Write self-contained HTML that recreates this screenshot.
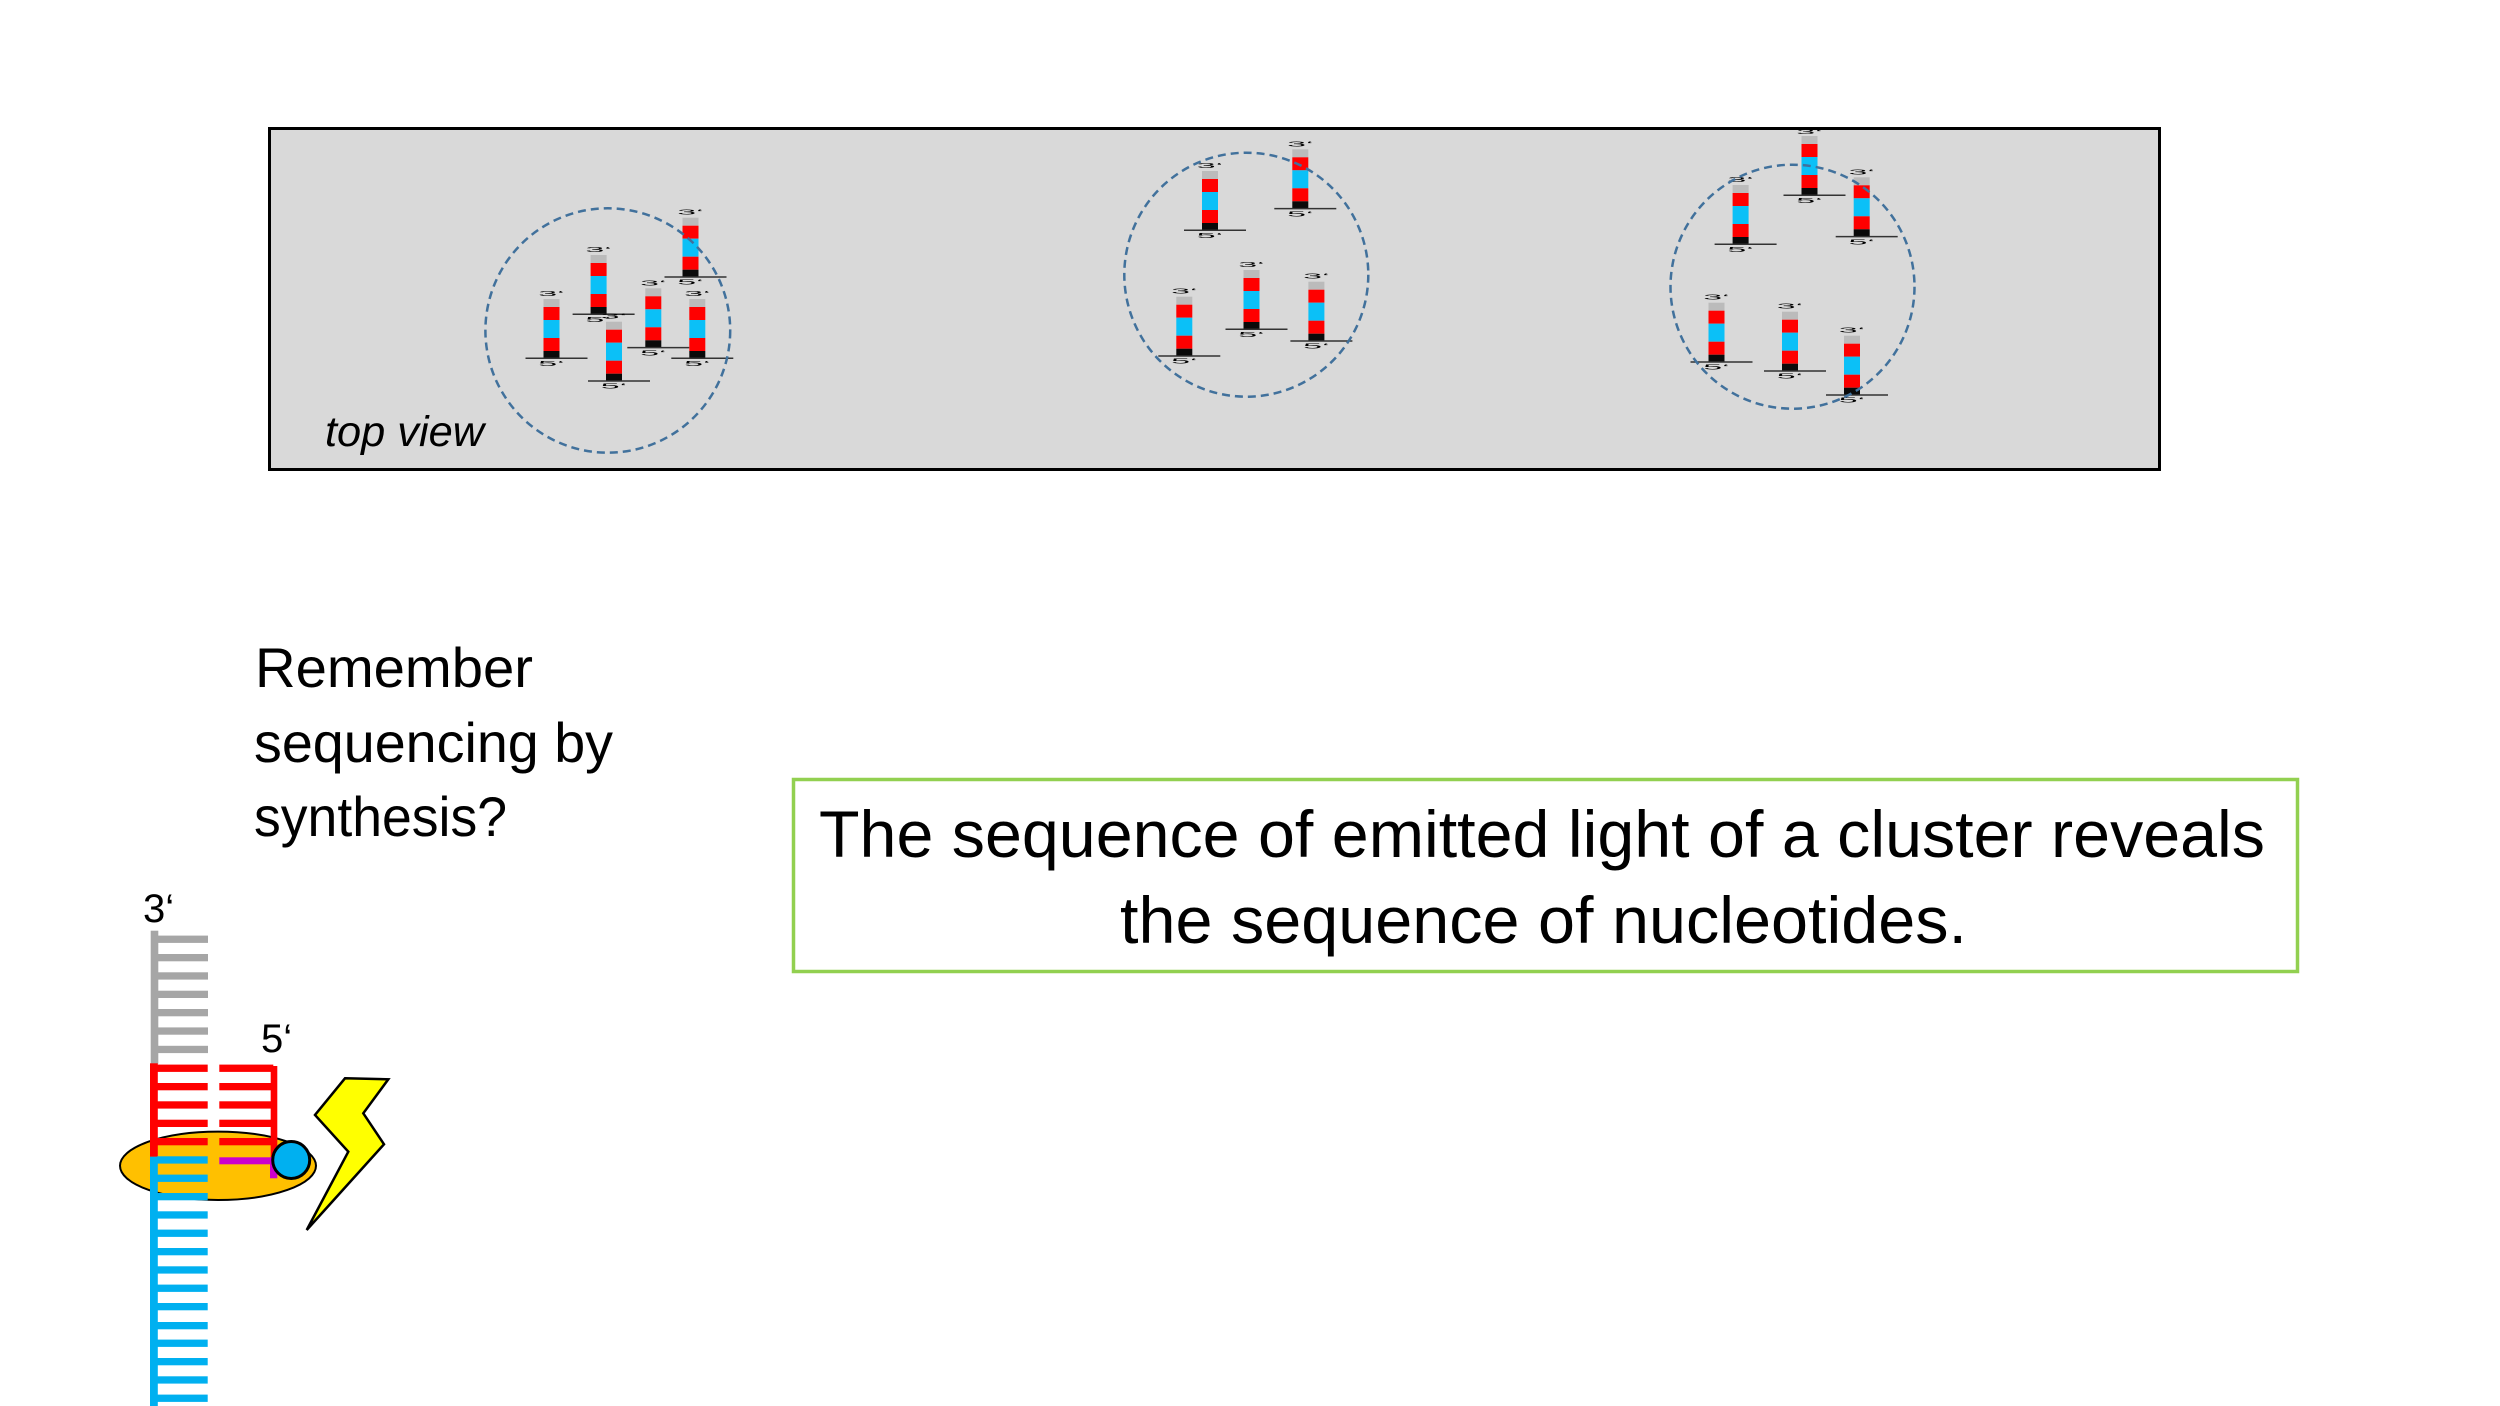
<!DOCTYPE html>
<html>
<head>
<meta charset="utf-8">
<style>
html,body{margin:0;padding:0;background:#fff;}
svg{display:block;}
text{font-family:"Liberation Sans",sans-serif;}
</style>
</head>
<body>
<svg width="2500" height="1406" viewBox="0 0 2500 1406" xmlns="http://www.w3.org/2000/svg">
<defs>
<g id="s">
<rect x="0" y="0" width="16" height="8" fill="#BBBBBB"/>
<rect x="0" y="8" width="16" height="13" fill="#FF0000"/>
<rect x="0" y="21" width="16" height="18" fill="#0BC0F7"/>
<rect x="0" y="39" width="16" height="13" fill="#FF0000"/>
<rect x="0" y="52" width="16" height="7.3" fill="#0A0A0A"/>
<line x1="-18" y1="59.3" x2="44" y2="59.3" stroke="#333" stroke-width="1.5"/>
</g>
</defs>

<!-- top view box -->
<rect x="269.5" y="128.5" width="1890" height="341" fill="#D9D9D9" stroke="#000" stroke-width="3"/>
<text x="325" y="446" font-size="43" font-style="italic" textLength="159" lengthAdjust="spacingAndGlyphs" fill="#000">top view</text>

<!-- strands cluster 1 -->
<g>
<use href="#s" x="543.5" y="299"/>
<text transform="translate(551.5,296) scale(3.4,0.7)" font-size="10" text-anchor="middle">3‘</text>
<text transform="translate(551.5,366) scale(3.4,0.7)" font-size="10" text-anchor="middle">5‘</text>
<use href="#s" x="590.6" y="255"/>
<text transform="translate(598.6,252) scale(3.4,0.7)" font-size="10" text-anchor="middle">3‘</text>
<text transform="translate(598.6,322) scale(3.4,0.7)" font-size="10" text-anchor="middle">5‘</text>
<use href="#s" x="682.5" y="217.7"/>
<text transform="translate(690.5,214.7) scale(3.4,0.7)" font-size="10" text-anchor="middle">3‘</text>
<text transform="translate(690.5,284.7) scale(3.4,0.7)" font-size="10" text-anchor="middle">5‘</text>
<use href="#s" x="645.3" y="288.3"/>
<text transform="translate(653.3,285.3) scale(3.4,0.7)" font-size="10" text-anchor="middle">3‘</text>
<text transform="translate(653.3,355.3) scale(3.4,0.7)" font-size="10" text-anchor="middle">5‘</text>
<use href="#s" x="689.3" y="299"/>
<text transform="translate(697.3,296) scale(3.4,0.7)" font-size="10" text-anchor="middle">3‘</text>
<text transform="translate(697.3,366) scale(3.4,0.7)" font-size="10" text-anchor="middle">5‘</text>
<use href="#s" x="606" y="321.7"/>
<text transform="translate(614,318.7) scale(3.4,0.7)" font-size="10" text-anchor="middle">3‘</text>
<text transform="translate(614,388.7) scale(3.4,0.7)" font-size="10" text-anchor="middle">5‘</text>
</g>

<!-- strands cluster 2 -->
<g>
<use href="#s" x="1202" y="171"/>
<text transform="translate(1210,168) scale(3.4,0.7)" font-size="10" text-anchor="middle">3‘</text>
<text transform="translate(1210,238) scale(3.4,0.7)" font-size="10" text-anchor="middle">5‘</text>
<use href="#s" x="1292.3" y="149.3"/>
<text transform="translate(1300.3,146.3) scale(3.4,0.7)" font-size="10" text-anchor="middle">3‘</text>
<text transform="translate(1300.3,216.3) scale(3.4,0.7)" font-size="10" text-anchor="middle">5‘</text>
<use href="#s" x="1176.3" y="296.7"/>
<text transform="translate(1184.3,293.7) scale(3.4,0.7)" font-size="10" text-anchor="middle">3‘</text>
<text transform="translate(1184.3,363.7) scale(3.4,0.7)" font-size="10" text-anchor="middle">5‘</text>
<use href="#s" x="1243.5" y="270"/>
<text transform="translate(1251.5,267) scale(3.4,0.7)" font-size="10" text-anchor="middle">3‘</text>
<text transform="translate(1251.5,337) scale(3.4,0.7)" font-size="10" text-anchor="middle">5‘</text>
<use href="#s" x="1308.4" y="281.7"/>
<text transform="translate(1316.4,278.7) scale(3.4,0.7)" font-size="10" text-anchor="middle">3‘</text>
<text transform="translate(1316.4,348.7) scale(3.4,0.7)" font-size="10" text-anchor="middle">5‘</text>
</g>

<!-- strands cluster 3 -->
<g>
<use href="#s" x="1801.5" y="136"/>
<text transform="translate(1809.5,134) scale(3.4,0.6)" font-size="10" text-anchor="middle">3‘</text>
<text transform="translate(1809.5,203) scale(3.4,0.7)" font-size="10" text-anchor="middle">5‘</text>
<use href="#s" x="1732.6" y="185"/>
<text transform="translate(1740.6,182) scale(3.4,0.7)" font-size="10" text-anchor="middle">3‘</text>
<text transform="translate(1740.6,252) scale(3.4,0.7)" font-size="10" text-anchor="middle">5‘</text>
<use href="#s" x="1853.7" y="177.3"/>
<text transform="translate(1861.7,174.3) scale(3.4,0.7)" font-size="10" text-anchor="middle">3‘</text>
<text transform="translate(1861.7,244.3) scale(3.4,0.7)" font-size="10" text-anchor="middle">5‘</text>
<use href="#s" x="1708.5" y="302.7"/>
<text transform="translate(1716.5,299.7) scale(3.4,0.7)" font-size="10" text-anchor="middle">3‘</text>
<text transform="translate(1716.5,369.7) scale(3.4,0.7)" font-size="10" text-anchor="middle">5‘</text>
<use href="#s" x="1782" y="311.7"/>
<text transform="translate(1790,308.7) scale(3.4,0.7)" font-size="10" text-anchor="middle">3‘</text>
<text transform="translate(1790,378.7) scale(3.4,0.7)" font-size="10" text-anchor="middle">5‘</text>
<use href="#s" x="1844" y="335.7"/>
<text transform="translate(1852,332.7) scale(3.4,0.7)" font-size="10" text-anchor="middle">3‘</text>
<text transform="translate(1852,402.7) scale(3.4,0.7)" font-size="10" text-anchor="middle">5‘</text>
</g>

<!-- dashed cluster circles -->
<g fill="none" stroke="#41719C" stroke-width="2.5" stroke-dasharray="8 5">
<ellipse cx="607.8" cy="330.5" rx="122.4" ry="122.2"/>
<ellipse cx="1246.3" cy="274.7" rx="122" ry="122"/>
<ellipse cx="1792.5" cy="286.7" rx="122" ry="122"/>
</g>

<!-- left text -->
<text x="255" y="687" font-size="56" textLength="278" lengthAdjust="spacingAndGlyphs" fill="#000">Remember</text>
<text x="254" y="762" font-size="56" textLength="359" lengthAdjust="spacingAndGlyphs" fill="#000">sequencing by</text>
<text x="254" y="836" font-size="56" textLength="253" lengthAdjust="spacingAndGlyphs" fill="#000">synthesis?</text>

<!-- green box -->
<rect x="793.5" y="779.5" width="1504" height="192" fill="#fff" stroke="#92D050" stroke-width="3.5"/>
<text x="819" y="857" font-size="66" textLength="1446" lengthAdjust="spacingAndGlyphs" fill="#000">The sequence of emitted light of a cluster reveals</text>
<text x="1120" y="943" font-size="66" textLength="847" lengthAdjust="spacingAndGlyphs" fill="#000">the sequence of nucleotides.</text>

<!-- DNA polymerase illustration -->
<ellipse cx="218" cy="1165.8" rx="98" ry="34.2" fill="#FFC000" stroke="#000" stroke-width="2"/>

<!-- gray section -->
<rect x="150.7" y="930.7" width="7.6" height="133" fill="#A6A6A6"/>
<g fill="#A6A6A6">
<rect x="158" y="935.6" width="50" height="7.3"/>
<rect x="158" y="954" width="50" height="7.3"/>
<rect x="158" y="972.3" width="50" height="7.3"/>
<rect x="158" y="990.7" width="50" height="7.3"/>
<rect x="158" y="1009" width="50" height="7.3"/>
<rect x="158" y="1027.4" width="50" height="7.3"/>
<rect x="158" y="1045.8" width="50" height="7.3"/>
</g>

<!-- red section -->
<rect x="150" y="1063.3" width="7.8" height="93.5" fill="#FF0000"/>
<g fill="#FF0000">
<rect x="157" y="1064.6" width="50.7" height="7.3"/>
<rect x="157" y="1083" width="50.7" height="7.3"/>
<rect x="157" y="1101.3" width="50.7" height="7.3"/>
<rect x="157" y="1119.7" width="50.7" height="7.3"/>
<rect x="157" y="1138" width="50.7" height="7.3"/>
<rect x="219.3" y="1064.6" width="54" height="7.3"/>
<rect x="219.3" y="1083" width="54" height="7.3"/>
<rect x="219.3" y="1101.3" width="54" height="7.3"/>
<rect x="219.3" y="1119.7" width="54" height="7.3"/>
<rect x="219.3" y="1138" width="54" height="7.3"/>
<rect x="270.7" y="1066" width="6.6" height="91.5"/>
</g>

<!-- magenta -->
<rect x="219.3" y="1157.3" width="52.4" height="7" fill="#CC00CC"/>
<rect x="270" y="1157.3" width="7.3" height="21" fill="#CC00CC"/>

<!-- blue section -->
<rect x="150" y="1156.7" width="7.8" height="249.3" fill="#00B0F0"/>
<g fill="#00B0F0">
<rect x="157" y="1156.3" width="50.7" height="7.3"/>
<rect x="157" y="1174.6" width="50.7" height="7.3"/>
<rect x="157" y="1193" width="50.7" height="7.3"/>
<rect x="157" y="1211.3" width="50.7" height="7.3"/>
<rect x="157" y="1229.6" width="50.7" height="7.3"/>
<rect x="157" y="1248" width="50.7" height="7.3"/>
<rect x="157" y="1266.3" width="50.7" height="7.3"/>
<rect x="157" y="1284.6" width="50.7" height="7.3"/>
<rect x="157" y="1303" width="50.7" height="7.3"/>
<rect x="157" y="1322" width="50.7" height="7.3"/>
<rect x="157" y="1339.6" width="50.7" height="7.3"/>
<rect x="157" y="1358" width="50.7" height="7.3"/>
<rect x="157" y="1376.3" width="50.7" height="7.3"/>
<rect x="157" y="1394.6" width="50.7" height="7.3"/>
</g>

<!-- blue circle (labelled nucleotide) -->
<circle cx="291.2" cy="1160" r="18.5" fill="#00B0F0" stroke="#000" stroke-width="3"/>

<!-- lightning bolt -->
<polygon points="345,1078.3 388.3,1079.3 363.3,1113.3 384,1144.3 306.7,1230 348.3,1151.7 315,1115" fill="#FFFF00" stroke="#000" stroke-width="2.5" stroke-linejoin="miter"/>

<!-- end labels -->
<text x="143" y="922" font-size="40" fill="#000">3‘</text>
<text x="261" y="1052" font-size="40" fill="#000">5‘</text>
</svg>
</body>
</html>
